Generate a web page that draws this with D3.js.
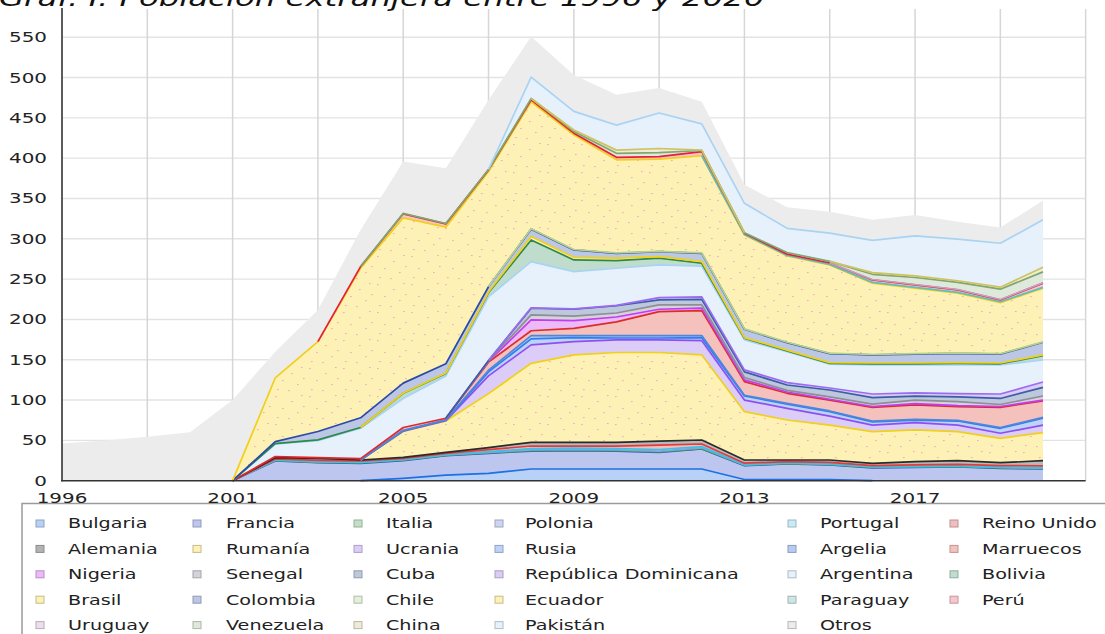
<!DOCTYPE html>
<html><head><meta charset="utf-8">
<script src="https://cdn.jsdelivr.net/npm/d3@7"></script>
<style>html,body{margin:0;padding:0;background:#fff;overflow:hidden}</style>
</head><body>
<svg id="chart" width="1105" height="634"></svg>
<script>
// ---------- data ----------
const years = ["1996","1998","1999","2000","2001","2002","2003","2004","2005","2006","2007","2008",
               "2009","2010","2011","2012","2013","2014","2015","2016","2017","2018","2019","2020"];
const yTicks = [0,50,100,150,200,250,300,350,400,450,500,550];
const xTickLabels = ["1996","2001","2005","2009","2013","2017"];
const seriesNames = ["Bulgaria","Francia","Italia","Polonia","Portugal","Reino Unido",
  "Alemania","Rumanía","Ucrania","Rusia","Argelia","Marruecos",
  "Nigeria","Senegal","Cuba","República Dominicana","Argentina","Bolivia",
  "Brasil","Colombia","Chile","Ecuador","Paraguay","Perú",
  "Uruguay","Venezuela","China","Pakistán","Otros"];

const bulgaria   = [0,0,0,0,0, 0,0,0,3,7,9,14.5,14.5,14.5,14.5,14.5,1.5,1.5,1.5,0,0,0,0,0];
const francia    = [0,0,0,0,0, 24.5,22.3,21.6,22,24,25,22.3,22.9,22.3,20.7,24.8,17.1,19.2,18,16,16.5,17,15.4,14.5];
const italia     = [0,0,0,0,0, 0.5,0.5,0.5,0.5,0.5,0.5,0.5,0.5,0.5,0.5,0.5,0.5,0.5,0.5,0.5,0.5,0.5,0.5,0.5];
const polonia    = [0,0,0,0,0, 0.5,0.5,0.5,0.5,0.5,0.5,1,1,1,1,1,0.5,0.5,0.5,0.5,0.5,0.5,0.5,0.5];
const portugal   = [0,0,0,0,0, 0.5,0.5,0.5,0.5,0.5,1,1.5,1.5,1.5,2,1.5,0.5,0.5,0.5,0.5,0.5,0.5,0.5,0.5];
const reinoUnido = [0,0,0,0,0, 1,1.5,1.5,1,1.5,2.5,3.2,2.6,3.2,5.3,3.2,1.6,1.5,1.7,1.2,1.7,1.7,1.8,2.5];
const alemania   = [0,0,0,0,0, 1.5,2.5,1.1,1.5,1.2,2.5,4.6,4.6,4.6,5.2,5,4,2,3,2.9,3.9,4.6,3.6,6.3];
const rumania    = [0,0,0,0,0, 0,0,0,32,38.8,67,98,108.4,111.4,109.8,105.5,59.9,49.6,43.3,39.2,39.4,36,30.3,34.8];
const ucrania    = [0,0,0,0,0, 0,0,0,0.5,0.5,22,22.8,16.5,15.6,15.6,17.7,14.4,14.5,11,8.2,9,8.2,6.2,9.4];
const rusia      = [0,0,0,0,0, 0,0,0,0.5,0.5,5,7.4,4.9,2.4,2.4,3.7,5,5.2,5.6,4,3,5,6.2,8.4];
const argelia    = [0,0,0,0,0, 0,0,0,0.5,0.5,2,4.2,2.6,3,3,2.6,1,1,0.9,1,1,1,1,1.1];
const marruecos  = [0,0,0,0,0, 1.5,0.7,1.6,3.5,2,10,6,9,17,29.7,31,16.8,12.4,13.5,17,18,16.8,25,20.5];
const nigeria    = [0,0,0,0,0, 0,0,0,0,0,1,13.4,9.5,6,2.9,3,2.2,1.6,1,1,1.5,1.2,1,1];
const senegal    = [0,0,0,0,0, 0,0,0,0,0,0.5,6.2,5.5,5,5.4,4,3,2,3,3,4.5,5,2.5,5];
const cuba       = [0,0,0,0,0, 0,0,0,0,0,0.5,8.3,8.6,9,6.2,7,7,6.7,8.5,8,5,6,7.5,10.8];
const repDominicana = [0,0,0,0,0, 0,0,0,0,0,0,0.5,0.5,0.5,2.8,3,2.4,2.9,2.5,4.5,4,4,5.5,6.6];
const argentina  = [0,0,0,0,0, 15.5,21.1,37.7,36,52.5,79,57.3,46.2,46,40.6,38,37.2,38.4,29.5,36,34.5,35.5,36,27.3];
const bolivia    = [0,0,0,0,0, 0.5,1,1,6.4,3,5,26.9,14.5,9.5,8.4,3.7,2.1,1,1,1.5,1.5,2,1.5,5.3];
const brasil     = [0,0,0,0,0, 0,0,0,0.3,0.5,1,4.2,3.2,3,2,2.3,0.8,1,1,1,1,1,1,1];
const colombia   = [0,0,0,0,0, 2.5,10.4,12,12.3,11.5,6.5,9.2,9.2,6,6,10,10.3,9.2,11.1,10,11,11.5,11,15.7];
const chile      = [0,0,0,0,0, 0,0,0,0,0,0,0.5,0.5,0.5,0.5,0.5,0.5,0.5,0.5,0.5,0.5,0.5,0.5,0.5];
const ecuador    = [0,0,0,0,0, 79,111.5,185.5,205,169.5,143,157.5,142.3,115.5,114.2,120.5,116.5,107.1,109.5,88.5,81.2,74,63.4,66.5];
const paraguay   = [0,0,0,0,0, 0,0,0,0,0,0,0,0,0,0,0,0.5,0.5,0.5,1,1,1,1,1];
const peru       = [0,0,0,0,0, 0,0,2,5,4,2,2.3,2,3,3.3,5,1.7,1.7,1.9,3,3.1,3.1,2.3,5.3];
const uruguay    = [0,0,0,0,0, 0,0,0,0,0,0,0,0,0,0,0,0,0,0,0.5,0.5,0.5,0.5,0.5];
const venezuela  = [0,0,0,0,0, 0,0,0,0.5,0.5,0.5,1.7,2,5,5,1.5,0.5,2,2,6.5,8.7,8.9,12.8,13.5];
const china      = [0,0,0,0,0, 0,0,0,0,0,0,0,2,4,5,0.5,0,0,0,2,2,2,2.5,5.7];
const pakistan   = [0,0,0,0,0, 0,0,0,0,0,0,26.5,23,31,44,32.6,36.5,30,35,40,49.6,51.5,54.5,58.8];
const otros      = [46,50,54.5,60,100, 32.5,39.3,45.5,64.5,68.5,86,50.5,45,37.5,31,27.4,23,26,26.7,25.5,26,21.5,19.5,23.9];

const seriesValues = [bulgaria,francia,italia,polonia,portugal,reinoUnido,alemania,rumania,ucrania,rusia,
  argelia,marruecos,nigeria,senegal,cuba,repDominicana,argentina,bolivia,brasil,colombia,chile,ecuador,
  paraguay,peru,uruguay,venezuela,china,pakistan,otros];

// ---------- styles ----------
const fillColors = ["#b7d2f6","#bdc6ee","#c2e0c4","#ccd5f1","#c9ebf8","#f1bdbd","#b9b9b9","url(#dots)",
  "#dccdf8","#bdd3f7","#b5cbf1","#f4c1bd","#ebbaf8","#d3d3d9","#bdc8dc","#dccbf5","#e6f1fc","#bfdccd",
  "url(#dots)","#bcc7e6","#e5f0d8","url(#dots)","#cde6e6","#f7c5cb","#ecdeec","#dfe9db","#efebd5","#e6f1fc","#ececec"];
const swatchColors = ["#b7d2f6","#bdc6ee","#c2e0c4","#ccd5f1","#c9ebf8","#f1bdbd","#b3b3b3","#fdf1b6",
  "#dccdf8","#bdd3f7","#b5cbf1","#f4c1bd","#ebbaf8","#d3d3d9","#bdc8dc","#dccbf5","#e6f1fc","#bfdccd",
  "#fdf1b6","#bcc7e6","#e5f0d8","#fdf1b6","#cde6e6","#f7c5cb","#ecdeec","#dfe9db","#efebd5","#e6f1fc","#ececec"];
const strokeColors = ["#1f6fe5","#2f55cf","#3aa04a","#8aa0e0","#3cc0e6","#e23b3b","#2b2b2b","#f2cf1a",
  "#8f4ff0","#2f7df0","#4e86dc","#e02a2a","#c53cf0","#8e8e96","#3c5ea6","#9b6cf0","#a9d3f3","#2c8a48",
  "#f2cf1a","#2c4aa6","#b5d28f","#f2cf1a","#5fbfbf","#e61e3c","#c0a2c0","#7fa86f","#cfc25f","#a9d3f3",null];

const SX = 1.42;
const svg = d3.select("#chart");

// pattern for yellow areas
const defs = svg.append("defs");
const pat = defs.append("pattern").attr("id","dots").attr("patternUnits","userSpaceOnUse")
  .attr("width",34).attr("height",28);
pat.append("rect").attr("width",34).attr("height",28).attr("fill","#fdf1b6");
[[3,4],[19,9],[29,3],[10,16],[25,20],[5,25],[16,26],[31,14]].forEach(p=>{
  pat.append("rect").attr("x",p[0]).attr("y",p[1]).attr("width",1.6).attr("height",1.1).attr("fill","#f2a9c8");
});

// ---------- scales ----------
const x = d3.scalePoint().domain(years).range([62,1043]);
const idxX = d3.scaleLinear().domain([0,years.length-1]).range([62,1043]);
const y = d3.scaleLinear().domain([0,585]).range([480.7,9]);
const plotRight = idxX(24);

// grid
const grid = svg.append("g");
grid.selectAll("line.h").data(yTicks.filter(v=>v>0)).join("line")
  .attr("x1",62).attr("x2",plotRight).attr("y1",d=>y(d)).attr("y2",d=>y(d))
  .attr("stroke","#e3e3e3").attr("stroke-width",1.4);
grid.selectAll("line.v").data(d3.range(2,25,2)).join("line")
  .attr("x1",d=>idxX(d)).attr("x2",d=>idxX(d)).attr("y1",y(585)).attr("y2",y(0))
  .attr("stroke","#d6d6d6").attr("stroke-width",1.5);

// ---------- stack ----------
const rows = years.map((yr,i)=>{const r={year:yr}; seriesNames.forEach((n,k)=>r[n]=seriesValues[k][i]); return r;});
const stacked = d3.stack().keys(seriesNames)(rows);

const area = d3.area().x((d,i)=>x(years[i])).y0(d=>y(d[0])).y1(d=>y(d[1]));
const gA = svg.append("g");
stacked.forEach((layer,k)=>{
  gA.append("path").attr("d",area(layer)).attr("fill",fillColors[k]).attr("stroke","none");
});
// top lines, only where layer has thickness
const line = d3.line().x(d=>x(years[d.i])).y(d=>y(d.v));
const gL = svg.append("g").attr("fill","none");
stacked.forEach((layer,k)=>{
  if(!strokeColors[k]) return;
  const vals = seriesValues[k];
  const runs=[]; let cur=null;
  for(let i=0;i<vals.length-1;i++){
    if(vals[i]>0||vals[i+1]>0){ if(!cur) cur=[i]; cur.push(i+1); }
    else if(cur){ runs.push(cur); cur=null; }
  }
  if(cur) runs.push(cur);
  runs.forEach(r=>{
    gL.append("path").attr("d",line(r.map(i=>({i:i,v:layer[i][1]}))))
      .attr("stroke",strokeColors[k]).attr("stroke-width",1.7).attr("stroke-linejoin","round");
  });
});

// axes lines
svg.append("line").attr("x1",62).attr("x2",62).attr("y1",y(585)-1).attr("y2",y(0)+0.5)
  .attr("stroke","#333").attr("stroke-width",1.6);
svg.append("line").attr("x1",61).attr("x2",plotRight).attr("y1",y(0)).attr("y2",y(0))
  .attr("stroke","#333").attr("stroke-width",1.6);

function stext(g,tx,ty,str,size,anchor,extra){
  const t = g.append("text").attr("transform",`translate(${tx},${ty}) scale(${SX},1)`)
    .attr("text-anchor",anchor).attr("font-family","DejaVu Sans").attr("font-size",size)
    .attr("fill","#222").text(str);
  if(extra) extra(t);
  return t;
}

// y labels
const gY = svg.append("g");
yTicks.forEach(v=>stext(gY,47,y(v)+5,String(v),14,"end"));

// legend box
const legend = svg.append("g");
legend.append("rect").attr("x",22).attr("y",503.5).attr("width",1200).attr("height",200)
  .attr("fill","#fff").attr("stroke","#9a9a9a").attr("stroke-width",1.5);
const colSw = [36,193,354,495,788,950];
const colTx = [68,226,386,525,820,982];
seriesNames.forEach((n,k)=>{
  const r = Math.floor(k/6), c = k%6;
  const cy = 523.5 + r*25.4;
  legend.append("rect").attr("x",colSw[c]).attr("y",cy-3.5).attr("width",8).attr("height",7)
    .attr("fill",swatchColors[k]).attr("stroke",d3.color(swatchColors[k]).darker(0.7)).attr("stroke-width",1);
  stext(legend,colTx[c],cy+4.8,n,13.5,"start");
});

// x labels
const gX = svg.append("g");
xTickLabels.forEach(lbl=>stext(gX,x(lbl),503,lbl,14,"middle"));

// title
stext(svg,-1,5.5,"Graf. I: Población extranjera entre 1996 y 2020",22.8,"start",t=>t.attr("font-style","italic").attr("fill","#111"));
</script>
</body></html>
